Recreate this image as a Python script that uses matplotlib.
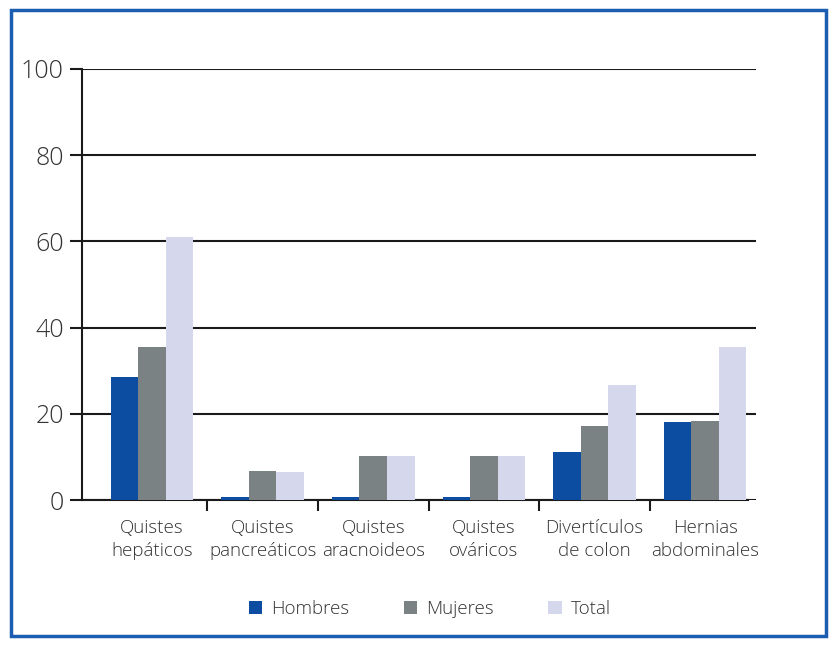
import matplotlib
matplotlib.use("Agg")
import matplotlib.pyplot as plt
import numpy as np
from matplotlib.patches import Rectangle, Patch

plt.rcParams['font.family'] = ['Open Sans', 'DejaVu Sans']

categories = ["Quistes\nhepáticos", "Quistes\npancreáticos", "Quistes\naracnoideos",
              "Quistes\nováricos", "Divertículos\nde colon", "Hernias\nabdominales"]
hombres = [28.5, 0.7, 0.7, 0.7, 11.2, 18.1]
mujeres = [35.5, 6.7, 10.3, 10.3, 17.2, 18.3]
total = [61.0, 6.4, 10.2, 10.2, 26.6, 35.5]
series_names = ["Hombres", "Mujeres", "Total"]
colors = ["#0C4DA2", "#7B8283", "#D5D8EC"]
yticks = [0, 20, 40, 60, 80, 100]

W, H = 833, 645
fig = plt.figure(figsize=(W / 100, H / 100), dpi=100)
ax = fig.add_axes([82 / W, 1 - 500 / H, (756 - 82) / W, (500 - 69) / H])

x = np.arange(len(categories))
bw = 0.249
for k, (vals, c) in enumerate(zip([hombres, mujeres, total], colors)):
    ax.bar(x + (k - 1) * bw, vals, width=bw, color=c, zorder=3, linewidth=0)

ax.set_ylim(0, 100)
ax.set_xlim(-0.633, 5.46)
ax.set_yticks(yticks)
ax.set_yticklabels([str(v) for v in yticks], fontsize=18, color="#333333", fontweight='light')
ax.yaxis.grid(True, color="#1a1a1a", linewidth=1.5, zorder=0)
ax.set_axisbelow(True)

ax.set_xticks(x)
ax.set_xticklabels(categories, fontsize=13.5, color="#333333", linespacing=1.35,
                   fontweight='light')
ax.tick_params(axis='x', which='major', length=0, pad=14)
ax.set_xticks(x[1:] - 0.5, minor=True)
ax.tick_params(axis='x', which='minor', length=8, width=1.5, direction='out', color="#1a1a1a")
ax.tick_params(axis='y', length=9, width=1.5, color="#1a1a1a", pad=4)

for s in ['top', 'right']:
    ax.spines[s].set_visible(False)
ax.spines['left'].set_linewidth(1.5)
ax.spines['left'].set_color("#1a1a1a")
ax.spines['bottom'].set_linewidth(1.5)
ax.spines['bottom'].set_color("#1a1a1a")
ax.spines['bottom'].set_bounds(-0.633, 5.39)

handles = [Patch(facecolor=c, edgecolor='none') for c in colors]
leg = fig.legend(handles, series_names, loc='center', bbox_to_anchor=(430 / W, 1 - 609 / H),
                 ncol=3, frameon=False, fontsize=13.5, handlelength=0.7, handleheight=0.7,
                 columnspacing=2.9, handletextpad=0.5, labelcolor="#333333")
for t in leg.get_texts():
    t.set_fontweight('light')

fig.patches.append(Rectangle((11 / W, 1 - 636 / H), (826 - 11) / W, (636 - 10) / H,
                             transform=fig.transFigure, fill=False,
                             edgecolor="#1B5DB0", linewidth=2.5))

fig.savefig("out.png", dpi=100)
